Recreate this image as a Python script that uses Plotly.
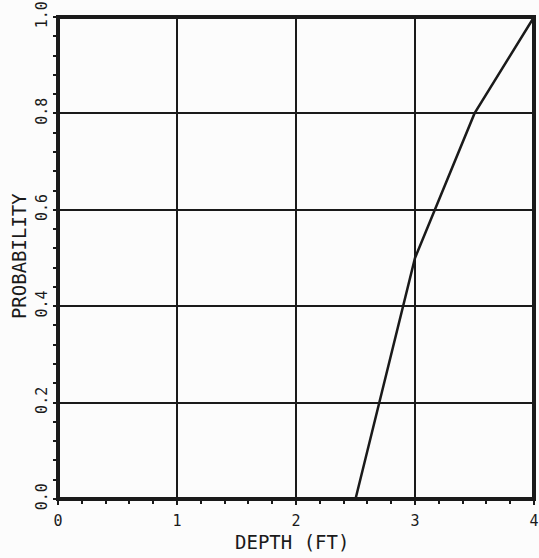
import plotly.graph_objects as go

depth = [2.5, 3.0, 3.5, 4.0]
probability = [0.0, 0.5, 0.8, 1.0]
x_ticks = [0, 1, 2, 3, 4]
x_tick_text = ["0", "1", "2", "3", "4"]
y_ticks = [0.0, 0.2, 0.4, 0.6, 0.8, 1.0]
y_tick_text = ["0.0", "0.2", "0.4", "0.6", "0.8", "1.0"]
x_title = "DEPTH (FT)"
y_title = "PROBABILITY"

font_family = "DejaVu Sans Mono"
ink = "#1a1a1a"

fig = go.Figure()
fig.add_trace(go.Scatter(x=depth, y=probability, mode="lines",
                         line=dict(color=ink, width=2.5), showlegend=False))

fig.update_layout(
    width=539, height=558,
    margin=dict(l=58, r=5, t=17, b=59, autoexpand=False),
    paper_bgcolor="#fcfcfc", plot_bgcolor="#fcfcfc",
    font=dict(family=font_family, color=ink, size=14),
    xaxis=dict(range=[0, 4], tickvals=x_ticks, ticktext=x_tick_text, automargin=False,
               showgrid=True, gridcolor=ink, gridwidth=1.5, zeroline=False,
               ticks="outside", ticklen=5, tickwidth=2, tickcolor=ink,
               minor=dict(dtick=0.2, ticks="outside", ticklen=4, tickwidth=1.5,
                          tickcolor=ink, showgrid=False),
               ticklabelstandoff=3, tickfont=dict(size=15)),
    yaxis=dict(range=[0, 1], tickvals=y_ticks, ticktext=y_tick_text, tickangle=-90,
               automargin=False,
               showgrid=True, gridcolor=ink, gridwidth=1.5, zeroline=False,
               ticks="outside", ticklen=4, tickwidth=2, tickcolor=ink,
               minor=dict(dtick=0.04, ticks="outside", ticklen=4, tickwidth=1.5,
                          tickcolor=ink, showgrid=False),
               ticklabelstandoff=0, tickfont=dict(size=15)),
    shapes=[dict(type="rect", xref="paper", yref="paper", x0=0, y0=0, x1=1, y1=1,
                 line=dict(color=ink, width=4), layer="above")],
    annotations=[
        dict(text=x_title, xref="paper", yref="paper", x=0.4916, y=-0.09,
             xanchor="center", yanchor="middle", showarrow=False,
             font=dict(size=19)),
        dict(text=y_title, xref="paper", yref="paper", x=-0.0819, y=0.504,
             xanchor="center", yanchor="middle", textangle=-90, showarrow=False,
             font=dict(size=19)),
    ],
)

fig.write_html("out.html", config={"displayModeBar": False},
               post_script="document.body.style.margin='0';document.body.style.background='#fcfcfc';")
